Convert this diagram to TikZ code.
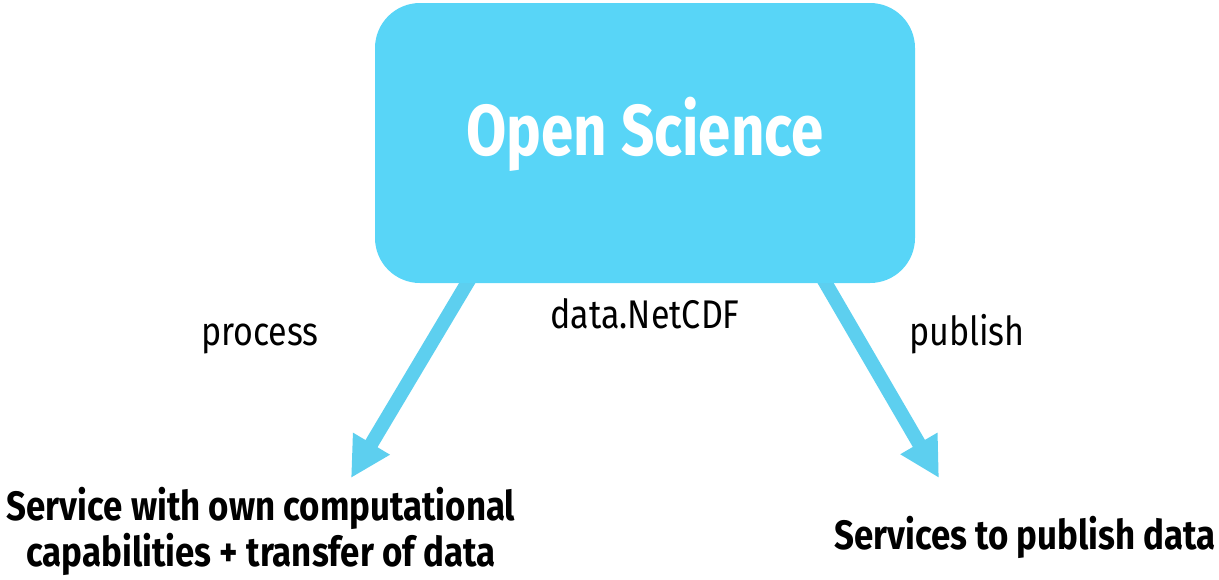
\documentclass[tikz,border=0pt]{standalone}
\usepackage{fontspec}
\setmainfont{Fira Sans}[FakeStretch=0.85]
\newfontfamily\titlefont{Fira Sans}[FakeStretch=0.81]
\usetikzlibrary{arrows.meta}
\definecolor{boxblue}{HTML}{58D5F7}
\definecolor{arrowblue}{HTML}{5DCFEF}
\tikzset{
  mainbox/.style={fill=boxblue, rounded corners=45pt, minimum width=540pt, minimum height=280pt, inner sep=0pt},
  flow/.style={draw=arrowblue, line width=14pt, -{Triangle[length=40pt,width=40pt]}},
  edgelabel/.style={font=\fontsize{40}{44}\selectfont, anchor=base, inner sep=0pt},
  target/.style={font=\fontsize{41}{46}\selectfont\bfseries, anchor=base, inner sep=0pt, align=center},
}
\begin{document}
\begin{tikzpicture}[x=1pt,y=-1pt]
\useasboundingbox (0,0) rectangle (1219,579);
% tails start under the box, tips point at the two services
\coordinate (ltail) at (475,270);
\coordinate (ltip) at (351,478);
\coordinate (rtail) at (818,270);
\coordinate (rtip) at (939,478);
\draw[flow] (ltail) -- (ltip);
\draw[flow] (rtail) -- (rtip);
\node[mainbox] (box) at (645,143) {};
\node[font=\fontsize{72}{80}\selectfont\titlefont\bfseries, text=white, anchor=base, inner sep=0pt] (title) at (645,155) {Open Science};
\node[edgelabel] (process) at (260,345) {process};
\node[edgelabel] (fmt) at (645,328) {data.NetCDF};
\node[edgelabel] (publish) at (967,345) {publish};
\node[target] (left) at (261,566) {Service with own computational\\capabilities + transfer of data};
\node[target] (right) at (1025,549) {Services to publish data};
\end{tikzpicture}
\end{document}
